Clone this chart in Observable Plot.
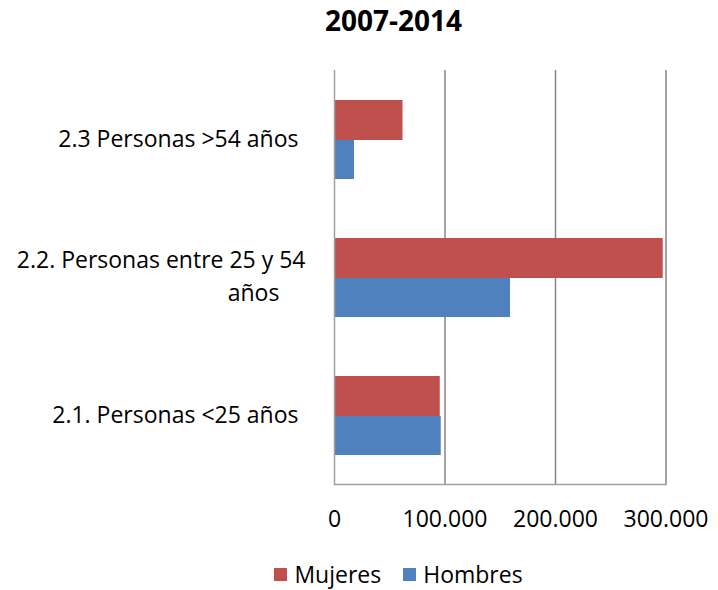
<!DOCTYPE html>
<html>
<head>
<meta charset="utf-8">
<script src="https://cdn.jsdelivr.net/npm/d3@7"></script>
<script src="https://cdn.jsdelivr.net/npm/@observablehq/plot@0.6"></script>
<style>
  html, body { margin: 0; padding: 0; background: #fff; }
  body { width: 718px; height: 590px; font-family: "Open Sans", sans-serif; color: #000; }
  #title { height: 45px; line-height: 40px; font-size: 28px; font-weight: bold; text-align: center; padding-left: 69px; box-sizing: border-box; }
  #legend { display: flex; justify-content: center; align-items: center; height: 26px; margin-top: 16px; padding-left: 79px; box-sizing: border-box; font-size: 23px; }
  #legend .item { display: flex; align-items: center; margin: 0 11px; }
  #legend .sw { width: 13px; height: 13px; margin-right: 7px; }
</style>
</head>
<body>
<div id="title"></div>
<div id="chart"></div>
<div id="legend"></div>
<script>
const title = "2007-2014";
const categories = ["2.3 Personas >54 años", "2.2. Personas entre 25 y 54 años", "2.1. Personas <25 años"];
const labelLines = [["2.3 Personas >54 años"], ["2.2. Personas entre 25 y 54", "años"], ["2.1. Personas <25 años"]];
const seriesNames = ["Mujeres", "Hombres"];
const seriesColors = ["#C0504D", "#4F81BD"];
const mujeres = [62000, 297500, 95700];
const hombres = [18100, 159300, 96600];
const xTicks = [0, 100000, 200000, 300000];

document.getElementById("title").textContent = title;

const data = [];
categories.forEach((c, i) => {
  data.push({cat: c, serie: "Mujeres", value: mujeres[i]});
  data.push({cat: c, serie: "Hombres", value: hombres[i]});
});

const esFormat = d3.formatLocale({decimal: ",", thousands: ".", grouping: [3], currency: ["", " €"]}).format(",");

const single = categories.filter((c, i) => labelLines[i].length === 1);
const multi = categories.map((c, i) => ({cat: c, lines: labelLines[i]})).filter(d => d.lines.length > 1);

const chart = Plot.plot({
  width: 718,
  height: 500,
  marginTop: 25,
  marginBottom: 61,
  marginLeft: 334,
  marginRight: 52.5,
  style: {fontFamily: "Open Sans", fontSize: "23px", color: "#000", background: "#fff"},
  x: {domain: [0, 300000]},
  y: {domain: categories, padding: 0},
  color: {domain: seriesNames, range: seriesColors},
  marks: [
    Plot.ruleX(xTicks.slice(1), {stroke: "#868686", strokeWidth: 1.5}),
    Plot.barX(data.filter(d => d.serie === "Mujeres"), {x: "value", y: "cat", fill: "serie", insetTop: 30, insetBottom: 68}),
    Plot.barX(data.filter(d => d.serie === "Hombres"), {x: "value", y: "cat", fill: "serie", insetTop: 70, insetBottom: 29}),
    Plot.ruleX([0], {stroke: "#a0a0a0", strokeWidth: 1.5}),
    Plot.frame({anchor: "bottom", stroke: "#a0a0a0", strokeWidth: 1.5}),
    Plot.axisX({ticks: xTicks, tickSize: 0, tickPadding: 26, tickFormat: esFormat, label: null, fontSize: 23}),
    Plot.axisY({tickSize: 0, tickPadding: 36, tickFormat: d => single.includes(d) ? d : "", label: null, fontSize: 23}),
    Plot.text(multi, {y: "cat", text: d => d.lines[0], frameAnchor: "left", textAnchor: "end", dx: -29, dy: -17, fontSize: 23}),
    Plot.text(multi, {y: "cat", text: d => d.lines[1], frameAnchor: "left", textAnchor: "middle", dx: -81, dy: 16, fontSize: 23})
  ]
});
document.getElementById("chart").appendChild(chart);

const legend = document.getElementById("legend");
seriesNames.forEach((n, i) => {
  const it = document.createElement("div");
  it.className = "item";
  const sw = document.createElement("span");
  sw.className = "sw";
  sw.style.background = seriesColors[i];
  const tx = document.createElement("span");
  tx.textContent = n;
  it.appendChild(sw); it.appendChild(tx);
  legend.appendChild(it);
});
</script>
</body>
</html>
